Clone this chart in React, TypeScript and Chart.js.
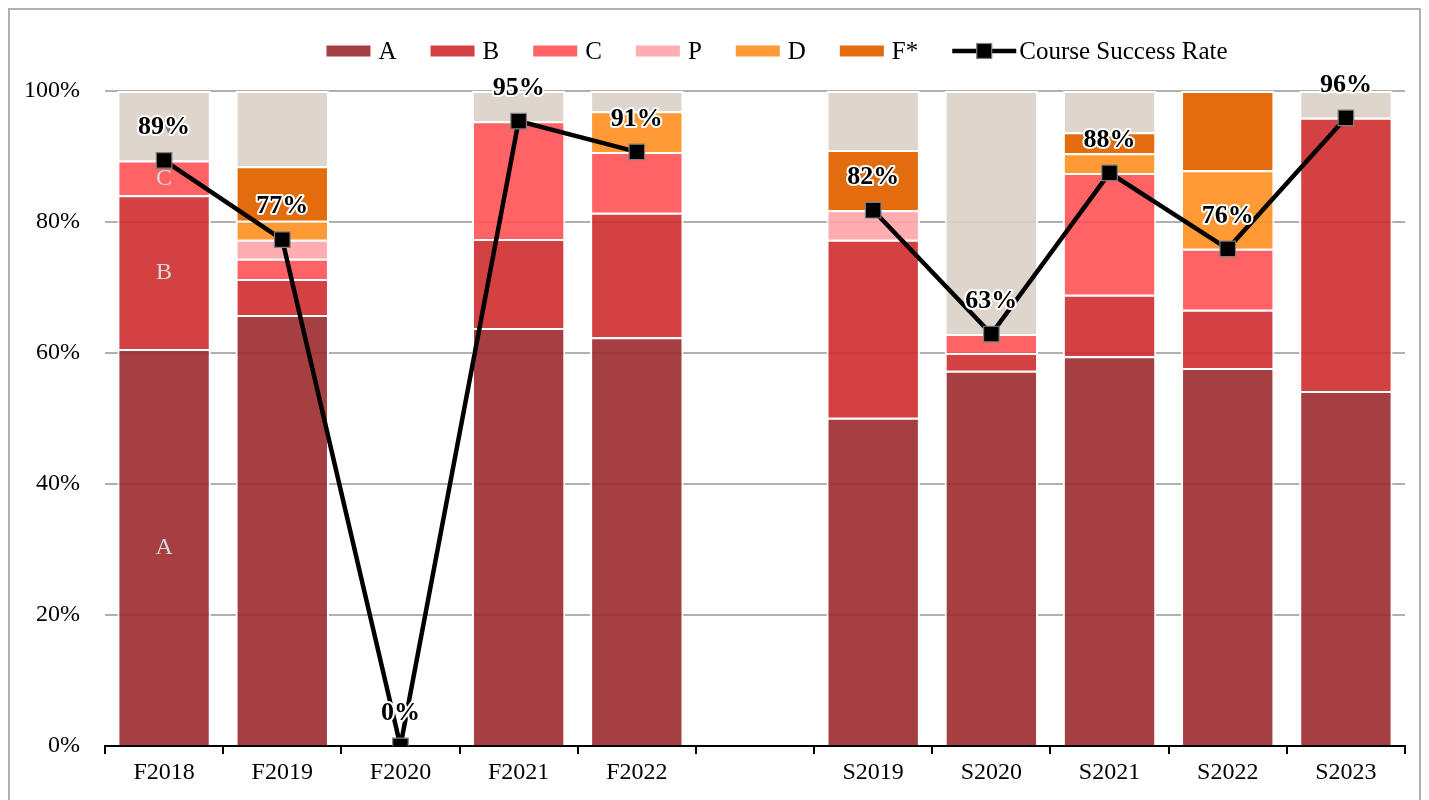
import React, { useEffect, useRef } from "react";
import { Chart, registerables } from "chart.js";

Chart.register(...registerables);

const FONT = "'Liberation Serif', 'Times New Roman', serif";

const categories = ["F2018", "F2019", "F2020", "F2021", "F2022", "", "S2019", "S2020", "S2021", "S2022", "S2023"];
const gradeA = [60.6, 65.8, 0, 63.8, 62.4, null, 50.1, 57.3, 59.5, 57.7, 54.2];
const gradeB = [23.5, 5.5, 0, 13.6, 19.0, null, 27.2, 2.7, 9.4, 8.9, 41.7];
const gradeC = [5.3, 3.1, 0, 18.0, 9.3, null, 0, 2.9, 18.6, 9.3, 0];
const gradeP = [0, 2.9, 0, 0, 0, null, 4.5, 0, 0, 0, 0];
const gradeD = [0, 2.9, 0, 0, 6.2, null, 0, 0, 3.0, 12.0, 0];
const gradeF = [0, 8.3, 0, 0, 0, null, 9.2, 0, 3.2, 12.1, 0];
const gradeW = [10.6, 11.5, 0, 4.6, 3.1, null, 9.0, 37.1, 6.3, 0, 4.1];
const successRate = [89.4, 77.3, 0, 95.4, 90.7, null, 81.8, 62.9, 87.5, 75.9, 95.9];
const yTickStep = 20;
const yMax = 100;

const barSeries = [
  { label: "A", data: gradeA, color: "rgba(156,42,45,0.9)", legend: true, segColor: "#d9d9d9" },
  { label: "B", data: gradeB, color: "rgba(207,44,46,0.9)", legend: true, segColor: "#d9d9d9" },
  { label: "C", data: gradeC, color: "rgba(255,82,85,0.9)", legend: true, segColor: "#d9d9d9" },
  { label: "P", data: gradeP, color: "rgba(255,164,167,0.9)", legend: true, segColor: "#f2b8b8" },
  { label: "D", data: gradeD, color: "rgba(255,143,30,0.9)", legend: true, segColor: "#b4560f" },
  { label: "F*", data: gradeF, color: "rgba(226,100,0,0.95)", legend: true, segColor: "#f4b183" },
  { label: "W", data: gradeW, color: "rgba(218,208,198,0.9)", legend: false, segColor: "#7f7f7f" },
];
const lineLabel = "Course Success Rate";
const segmentLabelIndex = 0;

export default function App() {
  const ref = useRef<HTMLCanvasElement | null>(null);

  useEffect(() => {
    if (!ref.current) return;
    const lineIndex = barSeries.length;

    const overlay = {
      id: "overlay",
      beforeDatasetDraw(chart: any, args: any) {
        if (args.index !== lineIndex) return;
        const ctx = chart.ctx;
        ctx.save();
        ctx.font = `24px ${FONT}`;
        ctx.textAlign = "center";
        ctx.textBaseline = "middle";
        barSeries.forEach((s, di) => {
          const el = chart.getDatasetMeta(di).data[segmentLabelIndex];
          if (!el) return;
          const v = s.data[segmentLabelIndex];
          if (v == null) return;
          const label = s.label === "F*" ? "F" : s.label;
          ctx.fillStyle = s.segColor;
          ctx.fillText(label, el.x, (el.y + el.base) / 2 + 1);
        });
        ctx.restore();
      },
      afterDatasetsDraw(chart: any) {
        const ctx = chart.ctx;
        const meta = chart.getDatasetMeta(lineIndex);
        ctx.save();
        ctx.font = `bold 26px ${FONT}`;
        ctx.textAlign = "center";
        ctx.textBaseline = "middle";
        ctx.lineJoin = "round";
        meta.data.forEach((pt: any, i: number) => {
          const v = successRate[i];
          if (v == null) return;
          const t = Math.round(v) + "%";
          ctx.strokeStyle = "#ffffff";
          ctx.lineWidth = 4;
          ctx.strokeText(t, pt.x, pt.y - 33);
          ctx.fillStyle = "#000000";
          ctx.fillText(t, pt.x, pt.y - 33);
        });
        ctx.restore();
      },
      afterDraw(chart: any) {
        const ctx = chart.ctx;
        ctx.save();
        ctx.font = `25px ${FONT}`;
        ctx.textBaseline = "middle";
        ctx.textAlign = "left";
        const boxW = 44, boxH = 11, gap = 8, spacing = 34, lineW = 64, lineGap = 3;
        const items = barSeries.filter((s) => s.legend);
        let total = 0;
        items.forEach((s) => (total += boxW + gap + ctx.measureText(s.label).width + spacing));
        total += lineW + lineGap + ctx.measureText(lineLabel).width;
        const area = chart.chartArea;
        let x = (area.left + area.right) / 2 + 22 - total / 2;
        const y = 41;
        items.forEach((s) => {
          ctx.fillStyle = s.color;
          ctx.fillRect(x, y - boxH / 2, boxW, boxH);
          x += boxW + gap;
          ctx.fillStyle = "#000";
          ctx.fillText(s.label, x, y + 1);
          x += ctx.measureText(s.label).width + spacing;
        });
        ctx.strokeStyle = "#000";
        ctx.lineWidth = 4.5;
        ctx.beginPath();
        ctx.moveTo(x, y);
        ctx.lineTo(x + lineW, y);
        ctx.stroke();
        ctx.fillStyle = "#000";
        ctx.fillRect(x + lineW / 2 - 7.5, y - 7.5, 15, 15);
        ctx.strokeStyle = "#808080";
        ctx.lineWidth = 1.2;
        ctx.strokeRect(x + lineW / 2 - 7.5, y - 7.5, 15, 15);
        x += lineW + lineGap;
        ctx.fillStyle = "#000";
        ctx.fillText(lineLabel, x, y + 1);
        ctx.restore();
      },
    };

    const datasets: any[] = barSeries.map((s) => ({
      type: "bar",
      label: s.label,
      data: s.data,
      backgroundColor: s.color,
      borderColor: "#ffffff",
      borderWidth: 2,
      barPercentage: 0.79,
      categoryPercentage: 1,
      stack: "grades",
      order: 1,
    }));
    datasets.push({
      type: "line",
      label: lineLabel,
      data: successRate,
      borderColor: "#000000",
      borderWidth: 4.5,
      pointStyle: "rect",
      pointRadius: 11,
      pointBackgroundColor: "#000000",
      pointBorderColor: "#808080",
      pointBorderWidth: 1.2,
      spanGaps: false,
      tension: 0,
      order: 0,
    });

    const chart = new Chart(ref.current, {
      type: "bar",
      data: { labels: categories, datasets },
      options: {
        animation: false,
        responsive: false,
        layout: { padding: { top: 81, right: 14, left: 0, bottom: 0 } },
        plugins: { legend: { display: false }, tooltip: { enabled: false } },
        scales: {
          x: {
            stacked: true,
            grid: { drawOnChartArea: false, drawTicks: true, tickLength: 8, color: "#000", lineWidth: 2, offset: true },
            border: { display: true, color: "#000", width: 2 },
            ticks: { color: "#000", font: { family: FONT, size: 24 }, padding: 4 },
            afterFit: (s: any) => { s.height = 54; },
          },
          y: {
            stacked: true,
            min: 0,
            max: yMax,
            grid: { color: "#b0b0b0", lineWidth: 2, drawTicks: false },
            border: { display: false },
            ticks: {
              stepSize: yTickStep,
              color: "#000",
              font: { family: FONT, size: 24 },
              padding: 25,
              callback: (v: any) => v + "%",
            },
            afterFit: (s: any) => { s.width = 95; },
          },
        },
      },
      plugins: [overlay],
    } as any);
    return () => chart.destroy();
  }, []);

  return (
    <div style={{ width: 1409, height: 800, border: "2px solid #b0b0b0", borderBottom: "none", overflow: "hidden" }}>
      <canvas ref={ref} width={1409} height={790} style={{ display: "block", width: 1409, height: 790 }} />
    </div>
  );
}
